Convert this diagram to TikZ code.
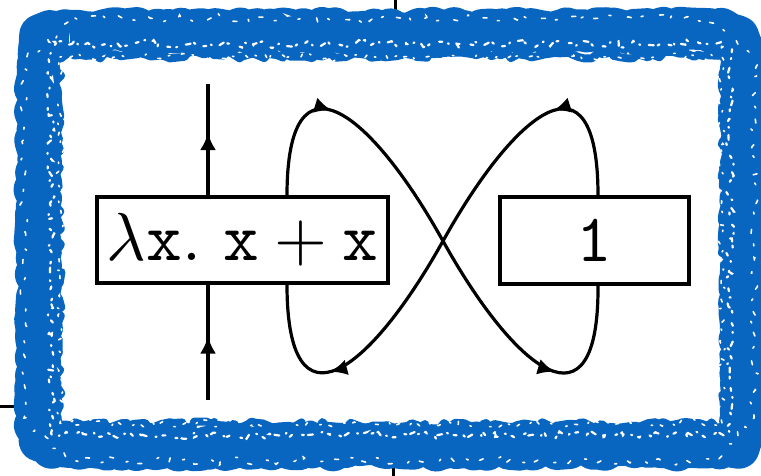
\documentclass[tikz,border=0pt]{standalone}
\usepackage{graphicx}
\usetikzlibrary{arrows.meta,decorations.pathmorphing,decorations.markings}
\definecolor{frameblue}{RGB}{8,102,192}
\begin{document}
\begin{tikzpicture}[x=1pt,y=-1pt,
  wire/.style={line width=3.2pt, black},
  termbox/.style={draw, line width=3.2pt, fill=white, inner sep=0pt},
  arrone/.style={postaction={decorate, decoration={markings,
      mark=at position #1 with {\arrow{Latex[length=17pt,width=16pt]}}}}},
  arrtwo/.style 2 args={postaction={decorate, decoration={markings,
      mark=at position #1 with {\arrow{Latex[length=17pt,width=16pt]}},
      mark=at position #2 with {\arrow{Latex[length=17pt,width=16pt]}}}}},
  cropmark/.style={line width=3pt, black},
  roughframe/.style={draw=frameblue, line width=42pt, line join=round,
      decorate, decoration={random steps, segment length=6pt, amplitude=3.5pt}},
  speckle/.style={draw=white, line width=2.2pt, line cap=round,
      dash pattern=on 3pt off 6pt on 1pt off 9pt on 5pt off 4pt on 2pt off 11pt,
      decorate, decoration={random steps, segment length=5pt, amplitude=4pt}}
]
\pgfmathsetseed{11}
\useasboundingbox (0,0) rectangle (761,476);
% crop marks
\coordinate (t1) at (395,0); \coordinate (t2) at (395,18);
\coordinate (l1) at (0,406); \coordinate (l2) at (22,406);
\coordinate (b1) at (393,462); \coordinate (b2) at (393,476);
\draw[cropmark] (t1) -- (t2);
\draw[cropmark] (l1) -- (l2);
\draw[cropmark] (b1) -- (b2);
% rough blue frame
\path[roughframe] (70,31) -- (710,31) .. controls (742,31) .. (742,63) -- (742,415)
  .. controls (742,447) .. (710,447) -- (70,447) .. controls (38,447) .. (38,415)
  -- (38,63) .. controls (38,31) .. (70,31) -- cycle;
\path[roughframe, line width=8pt] (58,55) -- (725,55) -- (725,425) -- (58,425) -- cycle;
\path[speckle] (72,44) -- (708,44) .. controls (730,44) .. (730,66) -- (730,412)
  .. controls (730,435) .. (708,435) -- (72,435) .. controls (51,435) .. (51,412)
  -- (51,66) .. controls (51,44) .. (72,44) -- cycle;
\path[speckle, line width=1.6pt, dash pattern=on 1.5pt off 13pt on 3pt off 8pt] (60,57) -- (722,57) -- (722,423) -- (60,423) -- cycle;
\path[speckle, line width=1.6pt, dash pattern=on 2pt off 17pt on 4pt off 12pt] (75,18) -- (708,18) -- (754,60) -- (754,418) -- (712,461) -- (70,461) -- (24,418) -- (24,60) -- cycle;
% boxes
\node[termbox, minimum width=291pt, minimum height=86pt] (L) at (242.5,240) {\scalebox{6.8}{$\lambda\mathtt{x.\ x} + \mathtt{x}$}};
\node[termbox, minimum width=189pt, minimum height=87pt] (R) at (594.5,240.5) {\scalebox{6.8}{\texttt{1}}};
% helper coordinates
\coordinate (pV) at (208,0);
\coordinate (pA) at (287,0);
\coordinate (pB) at (598,0);
\coordinate (vtop) at (208,84);
\coordinate (vbot) at (208,400);
\coordinate (X) at (443,241);
% vertical wire
\draw[wire, arrone=0.56] (L.north -| pV) -- (vtop);
\draw[wire, arrone=0.55] (vbot) -- (L.south -| pV);
% crossing loops
\draw[wire, arrtwo={0.195}{0.805}] (L.north -| pA) .. controls (287,45) and (370,110) .. (X)
  .. controls (516,372) and (599,437) .. (R.south -| pB);
\draw[wire, arrtwo={0.195}{0.805}] (R.north -| pB) .. controls (598,45) and (516,110) .. (X)
  .. controls (370,372) and (287,437) .. (L.south -| pA);
\end{tikzpicture}
\end{document}
